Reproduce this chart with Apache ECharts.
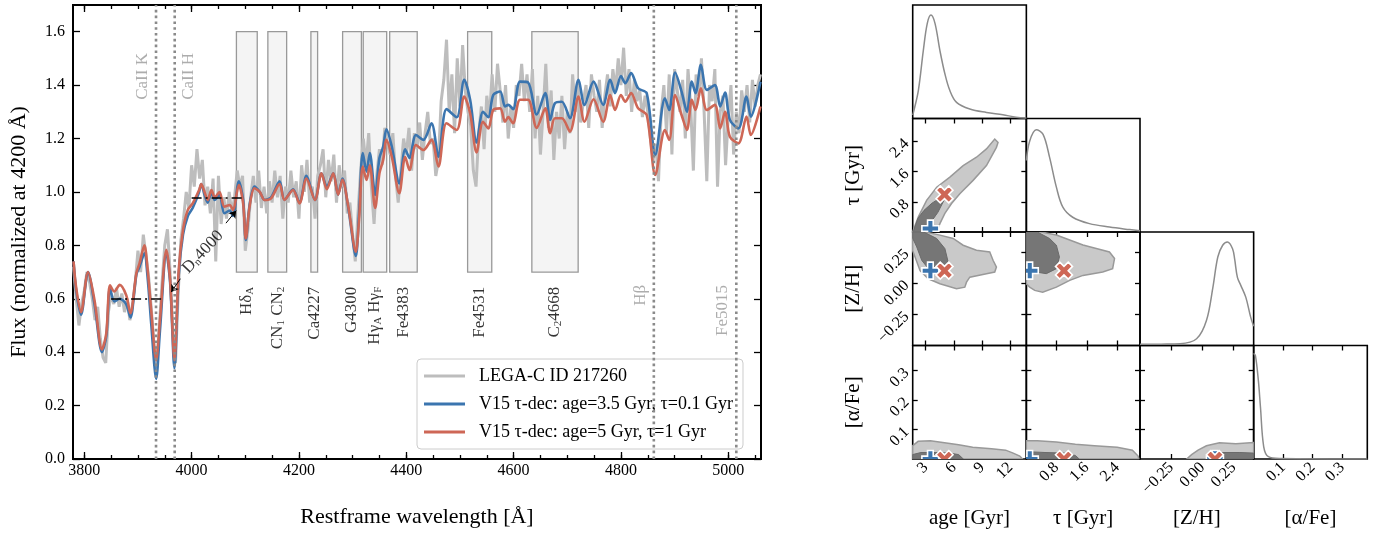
<!DOCTYPE html>
<html>
<head>
<meta charset="utf-8">
<script src="https://cdn.jsdelivr.net/npm/echarts@6/dist/echarts.min.js"></script>
<style>
html, body { margin: 0; padding: 0; background: #fff; }
#main { width: 1385px; height: 534px; }
</style>
</head>
<body>
<div id="main"></div>
<script>
var chart = echarts.init(document.getElementById('main'));
var FONT = 'Liberation Serif';

// ---- spectrum (left panel) ----
var modelWave = [
    3780, 3785, 3794, 3807, 3819, 3833, 3841, 3848, 3856, 3866,
    3878, 3886, 3897, 3903, 3912, 3918, 3925, 3934, 3941, 3953,
    3960, 3968, 3976, 3984, 3993, 4002, 4014, 4018, 4024, 4030,
    4037, 4043, 4052, 4061, 4071, 4077, 4088, 4096, 4101, 4108,
    4117, 4127, 4136, 4148, 4164, 4173, 4189, 4201, 4214, 4230,
    4242, 4252, 4264, 4273, 4281, 4292, 4306, 4312, 4319, 4326,
    4332, 4342, 4350, 4357, 4363, 4373, 4387, 4398, 4406, 4418,
    4432, 4447, 4460, 4475, 4494, 4508, 4519, 4531, 4543, 4553,
    4562, 4575, 4584, 4590, 4599, 4612, 4627, 4643, 4659, 4668,
    4677, 4690, 4705, 4721, 4732, 4749, 4767, 4780, 4789, 4800,
    4808, 4819, 4832, 4848, 4864, 4882, 4890, 4901, 4913, 4923,
    4932, 4939, 4949, 4960, 4975, 4985, 4994, 5003, 5019, 5034,
    5042, 5060
];
var fluxBlue = [
    0.74, 0.63, 0.54, 0.70, 0.58, 0.40, 0.46, 0.64, 0.59, 0.60,
    0.58, 0.53, 0.69, 0.72, 0.77, 0.68, 0.50, 0.30, 0.48, 0.77,
    0.66, 0.34, 0.69, 0.84, 0.91, 0.94, 1.00, 1.03, 0.99, 0.96,
    1.00, 0.97, 0.99, 0.92, 0.93, 0.91, 1.04, 0.97, 0.82, 0.95,
    1.02, 1.00, 0.97, 0.98, 1.04, 0.97, 1.01, 0.96, 1.06, 0.97,
    1.07, 1.02, 1.07, 0.99, 1.05, 0.94, 0.76, 0.92, 1.146, 1.076,
    1.146, 0.989, 1.127, 1.17, 1.235, 1.17, 1.032, 1.16, 1.127, 1.213,
    1.195, 1.257, 1.132, 1.31, 1.28, 1.42, 1.345, 1.185, 1.30, 1.28,
    1.363, 1.376, 1.32, 1.326, 1.31, 1.413, 1.41, 1.29, 1.37, 1.27,
    1.332, 1.338, 1.276, 1.42, 1.326, 1.413, 1.326, 1.42, 1.37, 1.434,
    1.407, 1.445, 1.388, 1.37, 1.139, 1.351, 1.307, 1.447, 1.376, 1.30,
    1.413, 1.37, 1.476, 1.382, 1.40, 1.32, 1.372, 1.27, 1.238, 1.357,
    1.282, 1.413
];
var fluxRed = [
    0.74, 0.64, 0.55, 0.70, 0.595, 0.41, 0.47, 0.65, 0.627, 0.652,
    0.614, 0.546, 0.695, 0.733, 0.80, 0.71, 0.55, 0.37, 0.52, 0.783,
    0.67, 0.37, 0.708, 0.858, 0.933, 0.957, 1.007, 1.03, 1.00, 0.97,
    1.007, 0.98, 1.00, 0.945, 0.951, 0.933, 1.026, 0.957, 0.826, 0.945,
    1.014, 1.00, 0.97, 0.976, 1.03, 0.97, 1.007, 0.957, 1.05, 0.97,
    1.07, 1.01, 1.07, 0.99, 1.045, 0.945, 0.776, 0.895, 1.095, 1.045,
    1.10, 0.94, 1.07, 1.12, 1.195, 1.132, 0.995, 1.132, 1.082, 1.176,
    1.157, 1.195, 1.095, 1.257, 1.232, 1.357, 1.295, 1.148, 1.263, 1.238,
    1.307, 1.313, 1.263, 1.28, 1.257, 1.345, 1.345, 1.24, 1.313, 1.22,
    1.276, 1.276, 1.226, 1.357, 1.263, 1.347, 1.263, 1.363, 1.307, 1.363,
    1.338, 1.37, 1.313, 1.288, 1.064, 1.232, 1.195, 1.363, 1.288, 1.232,
    1.345, 1.307, 1.388, 1.307, 1.326, 1.238, 1.30, 1.207, 1.182, 1.282,
    1.213, 1.32
];
// observed spectrum, sampled every 5 A from 3780 A
var greyStart = 3780;
var greyStep = 5;
var greyFlux = [
    0.72, 0.60, 0.50, 0.58, 0.63, 0.70, 0.66, 0.60, 0.52, 0.57,
    0.45, 0.38, 0.36, 0.55, 0.62, 0.58, 0.64, 0.57, 0.62, 0.55,
    0.60, 0.52, 0.58, 0.66, 0.78, 0.70, 0.84, 0.76, 0.68, 0.56,
    0.42, 0.34, 0.50, 0.66, 0.80, 0.86, 0.70, 0.48, 0.36, 0.62,
    0.82, 0.90, 1.00, 0.94, 1.10, 1.02, 1.16, 1.05, 1.12, 0.95,
    1.02, 0.92, 1.05, 0.74, 1.06, 0.88, 0.98, 0.90, 1.00, 0.92,
    0.98, 1.08, 1.02, 1.06, 0.78, 0.86, 0.98, 1.06, 0.96, 1.08,
    0.94, 1.02, 0.92, 1.04, 0.96, 1.08, 0.98, 1.06, 0.90, 1.02,
    0.96, 1.08, 0.98, 1.04, 0.90, 1.10, 1.00, 1.12, 0.96, 1.02,
    0.90, 1.06, 1.10, 1.16, 0.98, 1.12, 1.04, 1.14, 0.96, 1.10,
    1.02, 1.08, 0.92, 0.96, 0.84, 0.74, 0.92, 1.08, 1.20, 1.10,
    1.22, 1.02, 0.88, 1.06, 1.16, 1.10, 1.24, 1.18, 1.14, 1.22,
    1.06, 0.96, 1.08, 1.20, 1.14, 1.24, 1.08, 1.22, 1.16, 1.26,
    1.12, 1.22, 1.30, 1.18, 1.20, 1.06, 1.12, 1.34, 1.42, 1.57,
    1.30, 1.44, 1.22, 1.50, 1.32, 1.55, 1.38, 1.30, 1.25, 1.08,
    1.02, 1.22, 1.32, 1.16, 1.36, 1.28, 1.44, 1.30, 1.48, 1.38,
    1.26, 1.40, 1.20, 1.32, 1.24, 1.40, 1.36, 1.48, 1.34, 1.44,
    1.30, 1.46, 1.20, 1.36, 1.14, 1.30, 1.48, 1.24, 1.38, 1.12,
    1.30, 1.20, 1.36, 1.16, 1.30, 1.22, 1.44, 1.30, 1.40, 1.26,
    1.34, 1.40, 1.24, 1.44, 1.36, 1.30, 1.42, 1.24, 1.36, 1.44,
    1.32, 1.46, 1.38, 1.50, 1.40, 1.54, 1.36, 1.46, 1.30, 1.42,
    1.34, 1.38, 1.28, 1.36, 1.30, 1.20, 1.12, 1.18, 1.04, 1.30,
    1.40, 1.22, 1.44, 1.14, 1.46, 1.38, 1.30, 1.42, 1.20, 1.46,
    1.32, 1.08, 1.44, 1.36, 1.50, 1.30, 1.04, 1.40, 1.34, 1.46,
    1.02, 1.30, 1.36, 1.10, 1.28, 1.40, 1.14, 1.30, 1.22, 1.38,
    1.30, 1.40, 1.26, 1.42, 1.32, 1.40, 1.44
];

var waveTicks = [3800, 4000, 4200, 4400, 4600, 4800, 5000];
var waveMinorTicks = [3800, 3850, 3900, 3950, 4000, 4050, 4100, 4150, 4200, 4250, 4300, 4350, 4400,
    4450, 4500, 4550, 4600, 4650, 4700, 4750, 4800, 4850, 4900, 4950, 5000, 5050];
var fluxTicks = [0, 0.2, 0.4, 0.6, 0.8, 1.0, 1.2, 1.4, 1.6];

var lineNames = ['CaII K', 'CaII H', 'Hβ', 'Fe5015'];
var lineWaves = [3933.7, 3968.5, 4861.3, 5015.0];

var indexNames = ['Hδ{s|A}', 'CN{s|1} CN{s|2}', 'Ca4227', 'G4300', 'Hγ{s|A} Hγ{s|F}', 'Fe4383', 'Fe4531', 'C{s|2}4668'];
var indexLo = [4083.5, 4142.1, 4222.3, 4281.4, 4319.8, 4369.1, 4514.3, 4634.0];
var indexHi = [4122.3, 4177.1, 4234.8, 4316.4, 4363.5, 4420.4, 4559.3, 4720.3];

var legendNames = ['LEGA-C ID 217260', 'V15 τ-dec: age=3.5 Gyr, τ=0.1 Gyr', 'V15 τ-dec: age=5 Gyr, τ=1 Gyr'];

// ---- corner plot (right panel) ----
var paramNames = ['age [Gyr]', 'τ [Gyr]', '[Z/H]', '[α/Fe]'];
var paramMin = [1.62, 0.01, -0.5, 0];
var paramMax = [13.7, 3.0, 0.41, 0.385];
var paramTicks = [[3, 6, 9, 12], [0.8, 1.6, 2.4], [-0.25, 0, 0.25], [0.1, 0.2, 0.3]];
var paramTickLabels = [['3', '6', '9', '12'], ['0.8', '1.6', '2.4'], ['−0.25', '0.00', '0.25'], ['0.1', '0.2', '0.3']];

var blueParams = [3.5, 0.1, 0.1, 0.0];
var redParams = [5.0, 1.0, 0.1, 0.0];

var ageHistX = [1.62, 1.69, 2.22, 2.75, 3.17, 3.56, 3.99, 4.51, 5.04, 5.57, 6.28, 7.69, 9.46, 11.2, 12.6, 13.7];
var ageHistY = [0.03, 0.05, 0.246, 0.60, 0.838, 0.911, 0.838, 0.60, 0.394, 0.246, 0.142, 0.083, 0.053, 0.033, 0.012, 0.004];
var tauHistX = [0.01, 0.097, 0.27, 0.45, 0.62, 0.80, 0.97, 1.23, 1.67, 2.2, 2.73, 3.0];
var tauHistY = [0.63, 0.80, 0.90, 0.86, 0.66, 0.395, 0.219, 0.13, 0.074, 0.044, 0.021, 0.01];
var zhHistX = [-0.5, -0.33, -0.179, -0.047, 0.032, 0.084, 0.123, 0.162, 0.20, 0.241, 0.258, 0.28, 0.307, 0.347, 0.386, 0.41];
var zhHistY = [0.01, 0.012, 0.015, 0.059, 0.22, 0.515, 0.78, 0.883, 0.912, 0.853, 0.76, 0.60, 0.53, 0.426, 0.25, 0.17];
var afeHistX = [0, 0.006, 0.016, 0.023, 0.034, 0.05, 0.09, 0.385];
var afeHistY = [0.93, 0.91, 0.69, 0.46, 0.11, 0.02, 0.004, 0.0];

var ageTauOuter = [[1.62, 0.01], [1.69, 0.06], [2.22, 0.41], [3.1, 0.845], [4.17, 1.19], [5.57, 1.456], [6.98, 1.76],
    [8.4, 1.98], [9.46, 2.2], [10.34, 2.46], [10.69, 2.37], [10.52, 2.24], [9.46, 1.76], [8.04, 1.37], [6.63, 1.02],
    [5.75, 0.76], [5.04, 0.50], [4.51, 0.23], [4.17, 0.01]];
var ageTauInner = [[1.62, 0.01], [1.7, 0.03], [2.18, 0.37], [2.82, 0.58], [3.67, 0.77], [4.51, 0.90], [4.94, 0.84],
    [4.3, 0.53], [3.56, 0.27], [3.14, 0.01]];
var ageZhOuter = [[1.62, 0.41], [3.0, 0.41], [4.51, 0.385], [5.92, 0.358], [6.98, 0.304], [8.4, 0.264], [9.81, 0.25],
    [10.16, 0.183], [10.52, 0.129], [10.34, 0.089], [9.46, 0.076], [7.69, 0.048], [7.34, 0.008], [7.16, -0.032],
    [6.28, -0.045], [4.51, -0.005], [3.28, 0.035], [2.4, 0.10], [1.87, 0.21], [1.62, 0.26]];
var ageZhInner = [[1.62, 0.41], [2.8, 0.41], [4.17, 0.358], [5.04, 0.277], [5.39, 0.169], [4.86, 0.10], [3.46, 0.10],
    [2.58, 0.183], [2.05, 0.29], [1.62, 0.36]];
var tauZhOuter = [[0.01, 0.41], [0.4, 0.41], [0.80, 0.386], [1.15, 0.346], [1.50, 0.306], [1.85, 0.277], [2.196, 0.25],
    [2.33, 0.197], [2.28, 0.116], [2.02, 0.089], [1.50, 0.062], [1.15, 0.022], [0.80, -0.032], [0.44, -0.072],
    [0.23, -0.058], [0.097, -0.032], [0.01, -0.005]];
var tauZhInner = [[0.01, 0.41], [0.3, 0.41], [0.62, 0.358], [0.80, 0.304], [0.88, 0.21], [0.80, 0.116], [0.535, 0.076],
    [0.27, 0.089], [0.097, 0.129], [0.01, 0.156]];
var ageAfeOuter = [[1.62, 0], [1.62, 0.045], [2.2, 0.06], [3.5, 0.062], [5, 0.055], [6.5, 0.048], [8, 0.04], [10, 0.035],
    [11.5, 0.03], [12.3, 0.02], [13, 0.01], [13.3, 0]];
var ageAfeInner = [[1.62, 0], [1.62, 0.015], [2.5, 0.022], [4, 0.022], [5.5, 0.02], [6.5, 0.015], [7, 0]];
var tauAfeOuter = [[0.01, 0], [0.01, 0.062], [0.3, 0.062], [0.8, 0.058], [1.3, 0.05], [1.8, 0.045], [2.4, 0.04],
    [2.8, 0.03], [2.95, 0.01], [2.97, 0]];
var tauAfeInner = [[0.01, 0], [0.01, 0.025], [0.5, 0.022], [1.0, 0.02], [1.3, 0.012], [1.4, 0]];
var zhAfeOuter = [[-0.126, 0], [-0.087, 0.015], [-0.035, 0.03], [0.032, 0.045], [0.136, 0.055], [0.268, 0.052],
    [0.41, 0.056], [0.41, 0]];
var zhAfeInner = [[0.03, 0], [0.05, 0.018], [0.15, 0.022], [0.3, 0.022], [0.41, 0.02], [0.41, 0]];

var BLUE = '#3b75af';
var RED = '#ce6756';
var GREY = '#bdbdbd';

function zip(xs, ys) {
    return xs.map(function (x, i) { return [x, ys[i]]; });
}

var greyData = greyFlux.map(function (v, i) { return [greyStart + i * greyStep, v]; });

var grids = [];
var xAxes = [];
var yAxes = [];
var series = [];

// ---------------- left panel ----------------
grids.push({ left: 73, top: 5, width: 688, height: 454, show: true, borderColor: '#000', borderWidth: 2, backgroundColor: 'transparent' });

function specX(pos, ticks, len, withLabel) {
    return {
        gridIndex: 0, type: 'value', min: 3779, max: 5061, position: pos,
        axisLine: { show: false, onZero: false }, splitLine: { show: false },
        axisTick: { show: true, inside: true, length: len, customValues: ticks, lineStyle: { color: '#000', width: 1.3 } },
        axisLabel: withLabel
            ? { customValues: ticks, fontSize: 16, fontFamily: FONT, color: '#000', margin: 4,
                formatter: function (v) { return String(v); } }
            : { show: false },
        name: withLabel ? 'Restframe wavelength [Å]' : '',
        nameLocation: 'middle', nameGap: 47,
        nameTextStyle: { fontSize: 22, fontFamily: FONT, color: '#000' }
    };
}
xAxes.push(specX('bottom', waveTicks, 7, true));
xAxes.push(specX('bottom', waveMinorTicks, 4, false));
xAxes.push(specX('top', waveTicks, 7, false));
xAxes.push(specX('top', waveMinorTicks, 4, false));

function specY(pos, withLabel) {
    return {
        gridIndex: 0, type: 'value', min: 0, max: 1.7, position: pos,
        axisLine: { show: false, onZero: false }, splitLine: { show: false },
        axisTick: { show: true, inside: true, length: 7, customValues: fluxTicks, lineStyle: { color: '#000', width: 1.3 } },
        axisLabel: withLabel
            ? { customValues: fluxTicks, fontSize: 16, fontFamily: FONT, color: '#000', margin: 8,
                formatter: function (v) { return v.toFixed(1); } }
            : { show: false },
        name: withLabel ? 'Flux (normalized at 4200 Å)' : '',
        nameLocation: 'middle', nameGap: 43, nameRotate: 90,
        nameTextStyle: { fontSize: 22, fontFamily: FONT, color: '#000' }
    };
}
yAxes.push(specY('left', true));
yAxes.push(specY('right', false));

var BOX_TOP = 1.6, BOX_BOTTOM = 0.7;
series.push({
    type: 'custom', xAxisIndex: 0, yAxisIndex: 0, z: 1, silent: true,
    data: indexLo.map(function (lo, i) { return [lo, indexHi[i]]; }),
    renderItem: function (params, api) {
        var p0 = api.coord([api.value(0), BOX_TOP]);
        var p1 = api.coord([api.value(1), BOX_BOTTOM]);
        return {
            type: 'rect',
            shape: { x: p0[0], y: p0[1], width: p1[0] - p0[0], height: p1[1] - p0[1] },
            style: { fill: '#f4f4f4', stroke: '#999', lineWidth: 1.3 }
        };
    }
});

series.push({
    name: legendNames[0], type: 'line', xAxisIndex: 0, yAxisIndex: 0, z: 2,
    data: greyData, showSymbol: false, color: GREY,
    lineStyle: { color: GREY, width: 3 }
});
series.push({
    name: legendNames[1], type: 'line', xAxisIndex: 0, yAxisIndex: 0, z: 3,
    data: zip(modelWave, fluxBlue), showSymbol: false, smooth: 0.3, color: BLUE,
    lineStyle: { color: BLUE, width: 2.6 },
    markLine: {
        silent: true, symbol: 'none', label: { show: false },
        lineStyle: { color: '#000', width: 1.6, type: [10, 4, 2, 4] },
        data: [
            [{ coord: [3850, 0.6] }, { coord: [3950, 0.6] }],
            [{ coord: [4000, 0.98] }, { coord: [4100, 0.98] }]
        ]
    }
});
series.push({
    name: legendNames[2], type: 'line', xAxisIndex: 0, yAxisIndex: 0, z: 4,
    data: zip(modelWave, fluxRed), showSymbol: false, smooth: 0.3, color: RED,
    lineStyle: { color: RED, width: 2.6 },
    markLine: {
        silent: true, symbol: ['none', 'arrow'], symbolSize: 7, label: { show: false },
        lineStyle: { color: '#000', width: 1, type: 'solid' },
        data: [
            [{ coord: [3979, 0.675] }, { coord: [3962, 0.625] }],
            [{ coord: [4064, 0.883] }, { coord: [4083, 0.93] }]
        ]
    }
});

// vertical dotted lines
series.push({
    type: 'custom', xAxisIndex: 0, yAxisIndex: 0, z: 5, silent: true,
    data: lineWaves.map(function (w) { return [w, 0]; }),
    renderItem: function (params, api) {
        var p0 = api.coord([api.value(0), 0]);
        var p1 = api.coord([api.value(0), 1.7]);
        return {
            type: 'line',
            shape: { x1: p0[0], y1: p0[1], x2: p1[0], y2: p1[1] },
            style: { stroke: '#8a8a8a', lineWidth: 2.6, lineDash: [2.6, 3.2] }
        };
    }
});

// text annotations
var subRich = { s: { fontSize: 11, fontFamily: FONT, padding: [7, 0, 0, 0] } };
var labelItems = [];
var lineLabelY = [1.52, 1.52, 0.652, 0.652];
var lineLabelSide = ['bottom', 'top', 'bottom', 'bottom'];
lineNames.forEach(function (n, i) {
    labelItems.push({
        value: [lineWaves[i], lineLabelY[i]],
        label: {
            show: true, position: 'inside', formatter: n, rotate: 90,
            align: 'right', verticalAlign: lineLabelSide[i],
            padding: lineLabelSide[i] === 'bottom' ? [0, 0, 5, 0] : [5, 0, 0, 0],
            fontSize: 17, fontFamily: FONT, color: '#999'
        }
    });
});
indexNames.forEach(function (n, i) {
    labelItems.push({
        value: [(indexLo[i] + indexHi[i]) / 2, 0.645],
        label: {
            show: true, position: 'inside', formatter: n, rotate: 90,
            align: 'right', verticalAlign: 'middle',
            fontSize: 17, fontFamily: FONT, color: '#000', rich: subRich
        }
    });
});
labelItems.push({
    value: [4021, 0.775],
    label: {
        show: true, position: 'inside', formatter: 'D{s|n}4000', rotate: 47,
        align: 'center', verticalAlign: 'middle',
        fontSize: 17, fontFamily: FONT, color: '#000', rich: subRich
    }
});
series.push({
    type: 'scatter', xAxisIndex: 0, yAxisIndex: 0, z: 6, silent: true,
    symbolSize: 0, data: labelItems
});

// ---------------- corner panel ----------------
var cellLeft = 912.7, cellTop = 5, cellW = 113.65, cellH = 113.5;
var contours = {
    '1,0': [ageTauOuter, ageTauInner],
    '2,0': [ageZhOuter, ageZhInner],
    '2,1': [tauZhOuter, tauZhInner],
    '3,0': [ageAfeOuter, ageAfeInner],
    '3,1': [tauAfeOuter, tauAfeInner],
    '3,2': [zhAfeOuter, zhAfeInner]
};
var hists = [zip(ageHistX, ageHistY), zip(tauHistX, tauHistY), zip(zhHistX, zhHistY), zip(afeHistX, afeHistY)];

// thick plus marker drawn around the point's pixel position (rot in radians)
function markerRenderer(size, rot, color) {
    return function (params, api) {
        var c = api.coord([api.value(0), api.value(1)]);
        var h = size / 2, t = size / 6;
        var base = [[-t, -h], [t, -h], [t, -t], [h, -t], [h, t], [t, t], [t, h], [-t, h], [-t, t], [-h, t], [-h, -t], [-t, -t]];
        var cs = Math.cos(rot), sn = Math.sin(rot);
        var pts = base.map(function (p) {
            return [c[0] + p[0] * cs - p[1] * sn, c[1] + p[0] * sn + p[1] * cs];
        });
        return {
            type: 'polygon', shape: { points: pts },
            style: { fill: color, stroke: '#fff', lineWidth: 1.6, lineJoin: 'miter' }
        };
    };
}

function tickFormatter(k) {
    return function (v) {
        var idx = paramTicks[k].indexOf(v);
        return idx >= 0 ? paramTickLabels[k][idx] : String(v);
    };
}

function cornerX(g, k, pos, showTicks, showLabels) {
    return {
        gridIndex: g, type: 'value', min: paramMin[k], max: paramMax[k], position: pos,
        axisLine: { show: false, onZero: false }, splitLine: { show: false },
        axisTick: { show: showTicks, inside: true, length: 5, customValues: paramTicks[k], lineStyle: { color: '#000', width: 1.3 } },
        axisLabel: showLabels
            ? { customValues: paramTicks[k], formatter: tickFormatter(k), rotate: 45, fontSize: 16,
                fontFamily: FONT, color: '#000', margin: 6 }
            : { show: false },
        name: showLabels ? paramNames[k] : '',
        nameLocation: 'middle', nameGap: 49,
        nameTextStyle: { fontSize: 21, fontFamily: FONT, color: '#000' }
    };
}
function cornerY(g, k, pos, showLabels) {
    return {
        gridIndex: g, type: 'value', min: paramMin[k], max: paramMax[k], position: pos,
        axisLine: { show: false, onZero: false }, splitLine: { show: false },
        axisTick: { show: true, inside: true, length: 5, customValues: paramTicks[k], lineStyle: { color: '#000', width: 1.3 } },
        axisLabel: showLabels
            ? { customValues: paramTicks[k], formatter: tickFormatter(k), rotate: 45, fontSize: 16,
                fontFamily: FONT, color: '#000', margin: 6 }
            : { show: false },
        name: showLabels ? paramNames[k] : '',
        nameLocation: 'middle', nameGap: 49, nameRotate: 90,
        nameTextStyle: { fontSize: 21, fontFamily: FONT, color: '#000' }
    };
}

for (var i = 0; i < 4; i++) {
    for (var j = 0; j <= i; j++) {
        var g = grids.length;
        grids.push({
            left: cellLeft + j * cellW, top: cellTop + i * cellH, width: cellW, height: cellH,
            show: true, borderColor: '#000', borderWidth: 1.6, backgroundColor: 'transparent'
        });
        var diag = i === j;
        var xi = xAxes.length;
        xAxes.push(cornerX(g, j, 'bottom', !diag || i === 3, i === 3));
        xAxes.push(cornerX(g, j, 'top', !diag || i === 3, false));
        var yi = yAxes.length;
        if (diag) {
            yAxes.push({ gridIndex: g, type: 'value', min: 0, max: 1, show: false, axisLine: { onZero: false } });
            series.push({
                type: 'line', xAxisIndex: xi, yAxisIndex: yi, data: hists[i], showSymbol: false,
                smooth: 0.35, silent: true, clip: true,
                lineStyle: { color: '#8c8c8c', width: 1.5 }
            });
        } else {
            yAxes.push(cornerY(g, i, 'left', j === 0));
            yAxes.push(cornerY(g, i, 'right', false));
            var polys = contours[i + ',' + j];
            series.push({
                type: 'custom', xAxisIndex: xi, yAxisIndex: yi, silent: true, clip: true, z: 2,
                data: [[paramMin[j], paramMin[i]], [paramMin[j], paramMin[i]]],
                renderItem: (function (pp) {
                    return function (params, api) {
                        var pts = pp[params.dataIndex].map(function (p) { return api.coord(p); });
                        var inner = params.dataIndex === 1;
                        return {
                            type: 'polygon', shape: { points: pts },
                            style: inner
                                ? { fill: '#767676', stroke: '#6a6a6a', lineWidth: 1 }
                                : { fill: '#c9c9c9', stroke: '#999', lineWidth: 1.5 }
                        };
                    };
                })(polys)
            });
            series.push({
                type: 'custom', xAxisIndex: xi, yAxisIndex: yi, silent: true, clip: true, z: 3,
                data: [[blueParams[j], blueParams[i]]],
                renderItem: markerRenderer(17, 0, BLUE)
            });
            series.push({
                type: 'custom', xAxisIndex: xi, yAxisIndex: yi, silent: true, clip: true, z: 4,
                data: [[redParams[j], redParams[i]]],
                renderItem: markerRenderer(18, Math.PI / 4, RED)
            });
        }
    }
}

var option = {
    animation: false,
    backgroundColor: '#fff',
    grid: grids,
    xAxis: xAxes,
    yAxis: yAxes,
    legend: {
        data: legendNames, orient: 'vertical', left: 417, top: 359,
        icon: 'rect', itemWidth: 41, itemHeight: 3, itemGap: 10,
        padding: [8, 10, 8, 7],
        backgroundColor: 'rgba(255,255,255,0.85)', borderColor: '#ccc', borderWidth: 1, borderRadius: 4,
        textStyle: { fontSize: 18, fontFamily: FONT, color: '#000', padding: [0, 0, 0, 9] },
        selectedMode: false
    },
    series: series
};

chart.setOption(option);
</script>
</body>
</html>
